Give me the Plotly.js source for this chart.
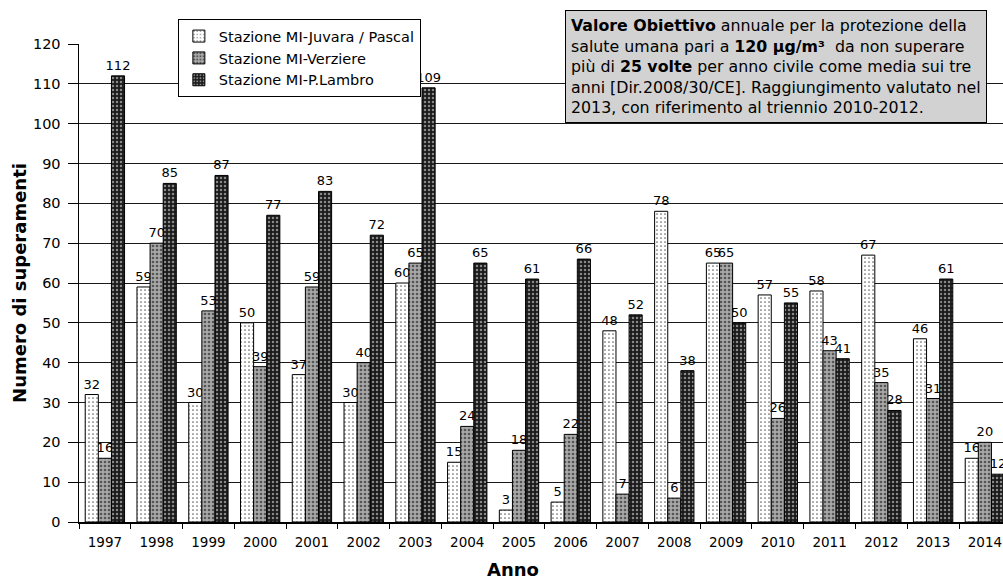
<!DOCTYPE html>
<html>
<head>
<meta charset="utf-8">
<script src="https://cdn.plot.ly/plotly-3.0.1.min.js"></script>
<style>html,body{margin:0;padding:0;background:#fff;}#chart{width:1003px;height:579px;}</style>
</head>
<body>
<div id="chart"></div>
<script>
const years = ["1997","1998","1999","2000","2001","2002","2003","2004","2005","2006","2007","2008","2009","2010","2011","2012","2013","2014"];
const juvara = [32,59,30,50,37,30,60,15,3,5,48,78,65,57,58,67,46,16];
const verziere = [16,70,53,39,59,40,65,24,18,22,7,6,65,26,43,35,31,20];
const lambro = [112,85,87,77,83,72,109,65,61,66,52,38,50,55,41,28,61,12];
const seriesNames = ["Stazione MI-Juvara / Pascal","Stazione MI-Verziere","Stazione MI-P.Lambro"];
const yTicks = [0,10,20,30,40,50,60,70,80,90,100,110,120];

const FONT = "DejaVu Sans, sans-serif";

function bar(name, vals, bg, fg, sol){
  return {
    type:"bar", name:name, x:years, y:vals,
    text: vals.map(String), textposition:"outside", constraintext:"none", cliponaxis:false,
    textfont:{family:FONT, size:13, color:"#000"},
    marker:{color:bg, line:{color:"#000", width:1},
      pattern:{shape:".", fgcolor:fg, bgcolor:bg, size:4, solidity:sol}},
    hoverinfo:"skip"
  };
}

const data = [
  bar(seriesNames[0], juvara, "#ffffff", "#666666", 0.15),
  bar(seriesNames[1], verziere, "#a8a8a8", "#555555", 0.35),
  bar(seriesNames[2], lambro, "#1a1a1a", "#888888", 0.3)
];

const layout = {
  width:1003, height:579,
  margin:{l:79, r:0, t:44, b:57},
  paper_bgcolor:"#fff", plot_bgcolor:"#fff",
  font:{family:FONT, color:"#000"},
  barmode:"group", bargap:0.24, bargroupgap:0,
  showlegend:true,
  legend:{x:0.107, y:1.052, xanchor:"left", yanchor:"top",
    bgcolor:"#fff", bordercolor:"#000", borderwidth:1,
    font:{family:FONT, size:14.5, color:"#000"}, itemwidth:30, tracegroupgap:0},
  xaxis:{type:"category", range:[-0.5,17.35], showgrid:false,
    showline:true, linecolor:"#000", linewidth:1.5,
    ticks:"outside", tickson:"boundaries", ticklen:5, tickcolor:"#000",
    ticklabelstandoff:7,
    tickfont:{family:FONT, size:13.5, color:"#000"}},
  yaxis:{range:[0,120], tickvals:yTicks, ticktext:yTicks.map(String),
    showgrid:true, gridcolor:"#1a1a1a", gridwidth:1,
    showline:true, linecolor:"#000", linewidth:1.5, zeroline:false,
    ticks:"outside", ticklen:10, tickcolor:"#000", ticklabelstandoff:4,
    tickfont:{family:FONT, size:14.5, color:"#000"},
    title:{text:"<b>Numero di superamenti</b>", font:{family:FONT, size:18, color:"#000"}, standoff:1}},
  annotations:[{
    xref:"paper", yref:"paper", x:0.526, y:1.071, xanchor:"left", yanchor:"top",
    align:"left", showarrow:false,
    text:"<b>Valore Obiettivo</b> annuale per la protezione della<br>salute umana pari a <b>120 µg/m³</b>  da non superare<br>più di <b>25 volte</b> per anno civile come media sui tre<br>anni [Dir.2008/30/CE]. Raggiungimento valutato nel<br>2013, con riferimento al triennio 2010-2012.",
    font:{family:FONT, size:15.8, color:"#000"},
    bgcolor:"#d2d2d2", bordercolor:"#000", borderwidth:1, borderpad:5
  },{
    xref:"paper", yref:"paper", x:0.47, y:-0.0985, xanchor:"center", yanchor:"middle",
    showarrow:false, text:"<b>Anno</b>",
    font:{family:FONT, size:18, color:"#000"}
  }]
};

Plotly.newPlot("chart", data, layout, {displayModeBar:false, staticPlot:true});
</script>
</body>
</html>
